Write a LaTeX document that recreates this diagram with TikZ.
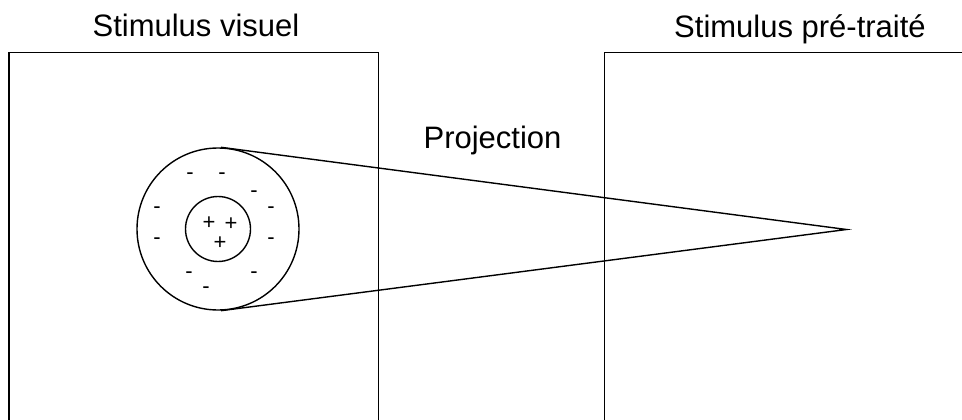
\documentclass[tikz,border=0pt]{standalone}
\usepackage{fontspec}
\setmainfont{Liberation Sans}
\begin{document}
\begin{tikzpicture}[x=1pt,y=-1pt,
  ln/.style={line width=1.4pt,black},
  title/.style={font=\fontsize{31}{35}\selectfont,anchor=base,inner sep=0pt},
  sgn/.style={font=\fontsize{22}{24}\selectfont,anchor=base,inner sep=0pt}]
\useasboundingbox (0,0) rectangle (962,420);
\clip (0,0) rectangle (962,420);
% boxes
\coordinate (lbl) at (9,430);
\coordinate (ltl) at (9,52.7);
\coordinate (ltr) at (378.7,52.7);
\coordinate (lbr) at (378.7,430);
\coordinate (rbl) at (604.7,430);
\coordinate (rtl) at (604.7,52.7);
\coordinate (rtr) at (975,52.7);
\draw[ln] (lbl) -- (ltl) -- (ltr) -- (lbr);
\draw[ln] (rbl) -- (rtl) -- (rtr);
% titles
\node[title] (t1) at (196,37) {Stimulus visuel};
\node[title] (t2) at (800,37.5) {Stimulus pré-traité};
\node[title] (t3) at (492.5,148.5) {Projection};
% circles
\node[ln,draw,circle,minimum size=162pt,inner sep=0pt] (outer) at (218,229) {};
\node[ln,draw,circle,minimum size=65pt,inner sep=0pt] (inner) at (218,229) {};
\coordinate (apex) at (846.5,229.5);
\draw[ln] ([xshift=3pt]outer.north) -- (apex) -- ([xshift=3pt]outer.south);
% signs
\foreach \x/\y [count=\i] in {190/173,222/173,254/191,157/207,271/207,157/238,271/238,189/272,254/272,206/287}
  \node[sgn] (m\i) at (\x,\y+6) {-};
\foreach \x/\y [count=\i] in {209/221.7,231/222.7,220/241.7}
  \node[sgn] (p\i) at (\x,\y+7.8) {+};
\end{tikzpicture}
\end{document}
